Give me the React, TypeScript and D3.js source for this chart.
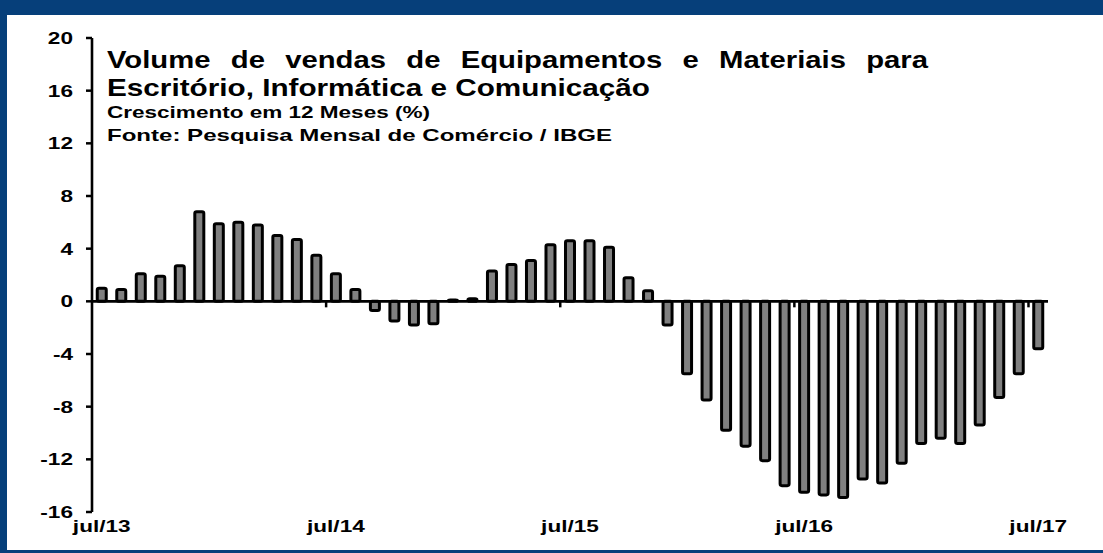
import React from "react";
import * as d3 from "d3";

const months: string[] = [
  "jul/13","ago/13","set/13","out/13","nov/13","dez/13","jan/14","fev/14","mar/14","abr/14","mai/14","jun/14",
  "jul/14","ago/14","set/14","out/14","nov/14","dez/14","jan/15","fev/15","mar/15","abr/15","mai/15","jun/15",
  "jul/15","ago/15","set/15","out/15","nov/15","dez/15","jan/16","fev/16","mar/16","abr/16","mai/16","jun/16",
  "jul/16","ago/16","set/16","out/16","nov/16","dez/16","jan/17","fev/17","mar/17","abr/17","mai/17","jun/17",
  "jul/17",
];

const values: number[] = [
  1.0, 0.9, 2.1, 1.9, 2.7, 6.8, 5.9, 6.0, 5.8, 5.0, 4.7, 3.5,
  2.1, 0.9, -0.7, -1.5, -1.8, -1.7, 0.1, 0.2, 2.3, 2.8, 3.1, 4.3,
  4.6, 4.6, 4.1, 1.8, 0.8, -1.8, -5.5, -7.5, -9.8, -11.0, -12.1, -14.0,
  -14.5, -14.7, -14.9, -13.5, -13.8, -12.3, -10.8, -10.4, -10.8, -9.4, -7.3, -5.5,
  -3.6,
];

const yTicks: number[] = [20, 16, 12, 8, 4, 0, -4, -8, -12, -16];
const xLabels: string[] = ["jul/13", "jul/14", "jul/15", "jul/16", "jul/17"];

const titleLines: string[] = [
  "Volume de vendas de Equipamentos e Materiais para",
  "Escritório, Informática e Comunicação",
  "Crescimento em 12 Meses (%)",
  "Fonte: Pesquisa Mensal de Comércio / IBGE",
];

const W = 1103;
const H = 553;
const FONT = "'Liberation Sans', Arial, Helvetica, sans-serif";
const BLUE = "#063f7a";
const SX = 1.33;

function Stretched({ x, y, anchor, size, children }: { x: number; y: number; anchor: "start" | "middle" | "end"; size: number; children: React.ReactNode }) {
  return (
    <g transform={`translate(${x},${y}) scale(${SX},1)`}>
      <text x={0} y={0} textAnchor={anchor} fontFamily={FONT} fontWeight="bold" fontSize={size} fill="#000">
        {children}
      </text>
    </g>
  );
}

export default function App() {
  const x = d3.scaleBand<string>().domain(months).range([92, 1048]).padding(0);
  const y = d3.scaleLinear().domain([-16, 20]).range([512, 38]);
  const bw = 9;
  const y0 = y(0);

  const titleCfg = [
    { size: 24, len: 821, base: 68, ws: 10 },
    { size: 24, len: 543, base: 96, ws: 0 },
    { size: 17, len: 323, base: 118, ws: 0 },
    { size: 17, len: 505, base: 141, ws: 0 },
  ];

  return (
    <svg width={W} height={H} style={{ position: "absolute", left: 0, top: 0, background: "#fff" }}>
      <rect x={0} y={0} width={W} height={H} fill="#fff" />
      {/* frame */}
      <rect x={0} y={0} width={W} height={15} fill={BLUE} />
      <rect x={0} y={0} width={7} height={H} fill={BLUE} />
      <rect x={0} y={550} width={W} height={3} fill={BLUE} />

      {/* title */}
      {titleLines.map((t, i) => (
        <text
          key={i}
          x={107}
          y={titleCfg[i].base}
          fontFamily={FONT}
          fontWeight="bold"
          fontSize={titleCfg[i].size}
          textLength={titleCfg[i].len}
          lengthAdjust="spacingAndGlyphs"
          style={{ wordSpacing: titleCfg[i].ws + "px" }}
          fill="#000"
        >
          {t}
        </text>
      ))}

      {/* bars */}
      {months.map((m, i) => {
        const v = values[i];
        const cx = (x(m) as number) + x.bandwidth() / 2;
        const top = Math.min(y(v), y0);
        const h = Math.abs(y(v) - y0);
        return (
          <rect
            key={m}
            x={cx - bw / 2}
            y={top}
            width={bw}
            height={Math.max(h, 0.5)}
            rx={1.8}
            fill="#808080"
            stroke="#000"
            strokeWidth={3}
          />
        );
      })}

      {/* zero line */}
      <line x1={92} x2={1048} y1={y0} y2={y0} stroke="#000" strokeWidth={2.6} />
      {/* x ticks at year boundaries */}
      {[12, 24, 36, 48].map((k) => {
        const xx = x(months[k]) as number;
        return <line key={k} x1={xx} x2={xx} y1={y0} y2={y0 + 6} stroke="#000" strokeWidth={2.5} />;
      })}

      {/* y axis */}
      <line x1={92} x2={92} y1={y(20)} y2={y(-16)} stroke="#000" strokeWidth={2.6} />
      {yTicks.map((t) => (
        <g key={t}>
          <line x1={86} x2={92} y1={y(t)} y2={y(t)} stroke="#000" strokeWidth={2.5} />
          <Stretched x={73} y={y(t) + 6} anchor="end" size={17}>
            {t}
          </Stretched>
        </g>
      ))}

      {/* x labels */}
      {xLabels.map((l) => {
        const cx = (x(l) as number) + x.bandwidth() / 2;
        return (
          <Stretched key={l} x={cx} y={532} anchor="middle" size={17}>
            {l}
          </Stretched>
        );
      })}
    </svg>
  );
}
